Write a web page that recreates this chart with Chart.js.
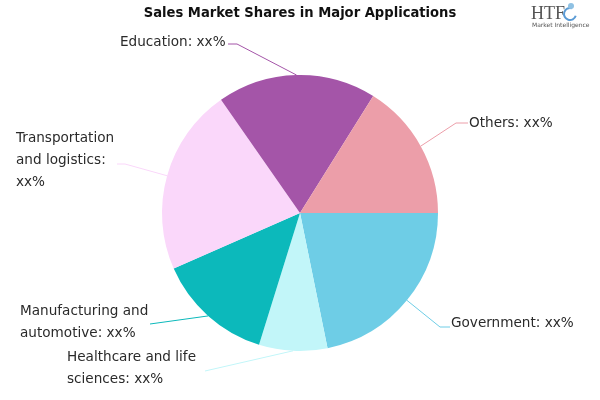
<!DOCTYPE html>
<html>
<head>
<meta charset="utf-8">
<script src="https://cdn.jsdelivr.net/npm/chart.js@4/dist/chart.umd.min.js"></script>
<style>
  html, body { margin: 0; padding: 0; background: #fff; }
  #wrap { width: 600px; height: 400px; position: relative; }
</style>
</head>
<body>
<div id="wrap"><canvas id="pie"></canvas></div>
<script>
// chart data
const categories = ['Government', 'Healthcare and life sciences', 'Manufacturing and automotive',
  'Transportation and logistics', 'Education', 'Others'];
const shares = [21.8, 8.0, 13.6, 21.9, 18.6, 16.1];
const sliceColors = ['#6ECDE6', '#C2F6F9', '#0CB9BB', '#FAD7FA', '#A455A8', '#EC9EA9'];

// label text per slice
const labelLines = [
  ['Government: xx%'],
  ['Healthcare and life', 'sciences: xx%'],
  ['Manufacturing and', 'automotive: xx%'],
  ['Transportation', 'and logistics:', 'xx%'],
  ['Education: xx%'],
  ['Others: xx%']
];
// text start, leader elbow and tail end
const labelPos = [
  { x: 451, y: 323, elbow: [440, 327], tail: [450, 327] },
  { x: 67, y: 357, elbow: [205, 371], tail: [205, 371] },
  { x: 20, y: 311, elbow: [150, 324], tail: [150, 324] },
  { x: 16, y: 138, elbow: [125, 164], tail: [117, 164] },
  { x: 120, y: 42, elbow: [237, 44], tail: [228, 44] },
  { x: 469, y: 123, elbow: [456, 123], tail: [468, 123] }
];
const lineGap = 22;

// labels with leader lines, title and logo
const leaderLabels = {
  id: 'leaderLabels',
  afterDatasetsDraw(chart) {
    const ctx = chart.ctx;
    const arcs = chart.getDatasetMeta(0).data;
    ctx.save();
    ctx.textBaseline = 'middle';
    arcs.forEach((arc, i) => {
      const mid = (arc.startAngle + arc.endAngle) / 2;
      const ex = arc.x + Math.cos(mid) * arc.outerRadius;
      const ey = arc.y + Math.sin(mid) * arc.outerRadius;
      const p = labelPos[i];
      ctx.strokeStyle = sliceColors[i];
      ctx.lineWidth = 1;
      ctx.beginPath();
      ctx.moveTo(ex, ey);
      ctx.lineTo(p.elbow[0], p.elbow[1]);
      ctx.lineTo(p.tail[0], p.tail[1]);
      ctx.stroke();
      ctx.fillStyle = '#2a2a2a';
      ctx.textAlign = 'left';
      ctx.font = '13.6px "DejaVu Sans"';
      labelLines[i].forEach((t, k) => ctx.fillText(t, p.x, p.y + k * lineGap));
    });

    // title
    ctx.fillStyle = '#111';
    ctx.textAlign = 'center';
    ctx.font = 'bold 14.6px "DejaVu Sans Condensed"';
    ctx.fillText('Sales Market Shares in Major Applications', 300, 13);

    // logo
    ctx.textAlign = 'left';
    ctx.fillStyle = '#555';
    ctx.font = '18px "Liberation Serif"';
    ctx.fillText('HTF', 531, 14);
    ctx.font = '6px "DejaVu Sans"';
    ctx.fillStyle = '#555';
    ctx.fillText('Market Intelligence', 532, 25);
    ctx.strokeStyle = '#5b9bd5';
    ctx.lineWidth = 2;
    ctx.beginPath();
    ctx.arc(570, 14, 6, 0.3, Math.PI * 1.6);
    ctx.stroke();
    ctx.fillStyle = '#8fc1e3';
    ctx.beginPath();
    ctx.arc(571, 6, 3, 0, Math.PI * 2);
    ctx.fill();
    ctx.restore();
  }
};

new Chart(document.getElementById('pie'), {
  type: 'pie',
  data: {
    labels: categories,
    datasets: [{
      data: shares,
      backgroundColor: sliceColors,
      borderWidth: 0
    }]
  },
  options: {
    responsive: true,
    maintainAspectRatio: false,
    animation: false,
    rotation: 90,
    radius: 138,
    layout: { padding: { top: 37, bottom: 11, left: 0, right: 0 } },
    plugins: {
      legend: { display: false },
      tooltip: { enabled: false },
      title: { display: false }
    }
  },
  plugins: [leaderLabels]
});
</script>
</body>
</html>
